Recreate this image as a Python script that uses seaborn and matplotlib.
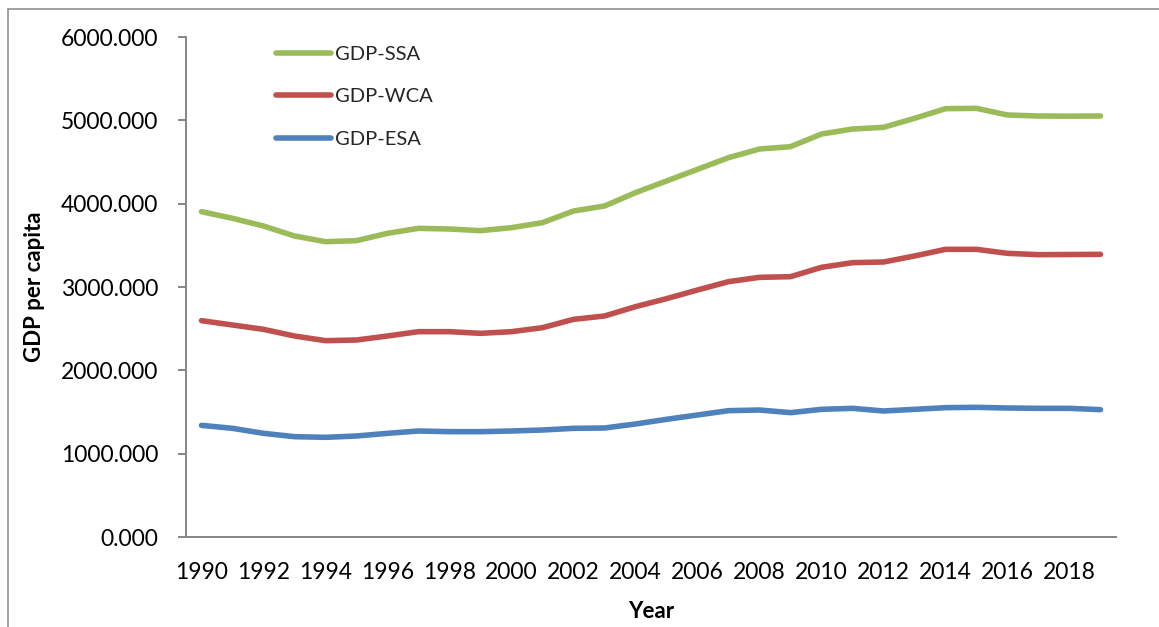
import matplotlib
matplotlib.use("Agg")
import matplotlib.pyplot as plt
from matplotlib.patches import Rectangle
import seaborn as sns
import pandas as pd

# GDP per capita by region, 1990-2019
years = list(range(1990, 2020))
gdp_ssa = [3904, 3824, 3732, 3612, 3544, 3556, 3644, 3704, 3696, 3676,
           3712, 3772, 3912, 3972, 4132, 4272, 4412, 4552, 4656, 4684,
           4836, 4896, 4916, 5024, 5140, 5144, 5064, 5052, 5050, 5052]
gdp_wca = [2596, 2544, 2492, 2412, 2356, 2364, 2412, 2464, 2464, 2444,
           2464, 2512, 2612, 2652, 2764, 2860, 2964, 3064, 3116, 3124,
           3236, 3292, 3300, 3372, 3452, 3452, 3404, 3388, 3390, 3392]
gdp_esa = [1340, 1304, 1244, 1204, 1196, 1212, 1244, 1272, 1264, 1264,
           1272, 1284, 1304, 1308, 1356, 1412, 1464, 1516, 1524, 1492,
           1532, 1544, 1512, 1532, 1552, 1556, 1548, 1544, 1544, 1528]
series_names = ["GDP-SSA", "GDP-WCA", "GDP-ESA"]
tick_years = list(range(1990, 2019, 2))
y_ticks = [0, 1000, 2000, 3000, 4000, 5000, 6000]

df = pd.DataFrame({
    "Year": years * 3,
    "GDP per capita": gdp_ssa + gdp_wca + gdp_esa,
    "Series": [series_names[0]] * len(years)
              + [series_names[1]] * len(years)
              + [series_names[2]] * len(years),
})

sns.set_theme(style="white")
plt.rcParams["font.family"] = ["Lato", "DejaVu Sans"]

W, H = 1159, 627
fig = plt.figure(figsize=(W / 100, H / 100), dpi=100)
ax = fig.add_axes([186 / W, 1 - 537 / H, (1116 - 186) / W, (537 - 37) / H])

palette = {"GDP-SSA": "#9BBB59", "GDP-WCA": "#C0504D", "GDP-ESA": "#4F81BD"}
sns.lineplot(data=df, x="Year", y="GDP per capita", hue="Series",
             hue_order=series_names, palette=palette, linewidth=4,
             ax=ax, solid_capstyle="round")

ax.set_xlim(1989.5, 2019.5)
ax.set_ylim(0, 6000)
ax.set_xticks(tick_years)
ax.set_xticklabels([str(y) for y in tick_years])
ax.set_yticks(y_ticks)
ax.set_yticklabels([f"{v:.3f}" for v in y_ticks])

axis_grey = "#868686"
for side in ("top", "right"):
    ax.spines[side].set_visible(False)
for side in ("left", "bottom"):
    ax.spines[side].set_color(axis_grey)
    ax.spines[side].set_linewidth(1.4)

ax.tick_params(axis="y", direction="out", length=6, width=1.4, color=axis_grey,
               labelsize=16.5, labelcolor="black", pad=14, left=True)
ax.tick_params(axis="x", length=0, labelsize=16.5, labelcolor="black", pad=18)

ax.set_xlabel("Year", fontsize=16, fontweight="bold", color="black")
ax.set_ylabel("GDP per capita", fontsize=16, fontweight="bold", color="black")
ax.xaxis.set_label_coords(0.5, (537 - 612) / 500)
ax.xaxis.label.set_va("center")
ax.yaxis.set_label_coords((35 - 186) / 930, 0.5)
ax.yaxis.label.set_va("center")

leg = ax.legend(loc="upper left", bbox_to_anchor=(276 / W, 1 - 46 / H),
                bbox_transform=fig.transFigure, frameon=False, fontsize=14.5,
                handlelength=2.75, handletextpad=0.2, labelspacing=1.25,
                borderpad=0, borderaxespad=0, title=None)
for line in leg.get_lines():
    line.set_linewidth(4)
    line.set_solid_capstyle("round")

# outer chart frame
fig.add_artist(Rectangle((8 / W, -0.1), 1.2, 1 - 9 / H + 0.1,
                         transform=fig.transFigure, fill=False,
                         edgecolor=axis_grey, linewidth=1.1))

fig.savefig("out.png", dpi=100, facecolor="white")
